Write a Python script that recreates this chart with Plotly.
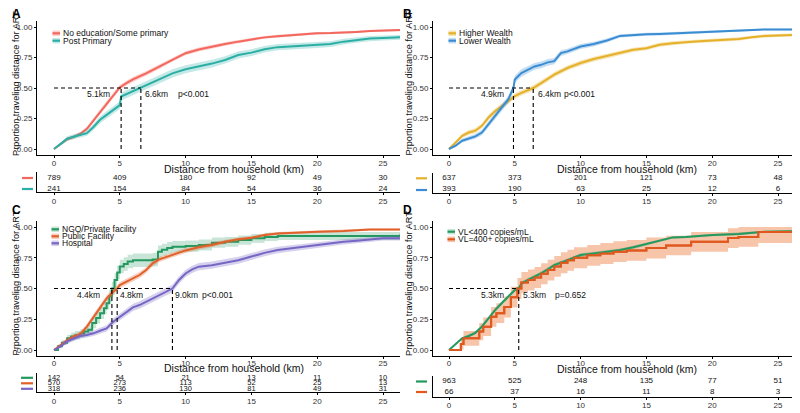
import plotly.graph_objects as go

# ---------------- DATA ----------------
# Panel A: education
A_noedu_x = [0,0.5,1,1.5,2,2.5,3,3.5,4,4.5,5,5.5,6,7,8,9,10,11,12,13,14,15,16,17,18,19,20,21,22,23,24,25,26.3]
A_noedu_y = [0,0.04,0.08,0.10,0.125,0.165,0.235,0.305,0.375,0.44,0.505,0.54,0.57,0.62,0.675,0.735,0.785,0.815,0.84,0.86,0.88,0.90,0.915,0.925,0.934,0.94,0.948,0.95,0.953,0.96,0.967,0.97,0.975]
A_noedu_ci = [0,0.01,0.015,0.015,0.015,0.018,0.02,0.02,0.02,0.02,0.02,0.02,0.02,0.02,0.02,0.018,0.017,0.016,0.015,0.014,0.013,0.012,0.012,0.011,0.011,0.01,0.01,0.01,0.01,0.01,0.009,0.009,0.009]
A_post_x = [0,0.5,1,1.5,2,2.5,3,3.5,4,4.5,5,5.1,5.5,6,6.6,7,8,9,10,11,12,13,14,15,16,17,18,19,20,21,22,23,24,25,26.3]
A_post_y = [0,0.04,0.085,0.10,0.115,0.13,0.18,0.24,0.28,0.32,0.36,0.43,0.45,0.47,0.50,0.525,0.57,0.62,0.653,0.675,0.70,0.73,0.77,0.79,0.817,0.835,0.84,0.845,0.853,0.86,0.88,0.893,0.905,0.91,0.915]
A_post_ci = [0,0.015,0.02,0.02,0.02,0.022,0.025,0.028,0.03,0.03,0.032,0.033,0.033,0.033,0.033,0.033,0.033,0.033,0.033,0.032,0.031,0.03,0.029,0.028,0.027,0.026,0.026,0.025,0.025,0.024,0.023,0.022,0.021,0.02,0.02]
A_names = ["No education/Some primary", "Post Primary"]
A_risk_noedu = [789, 409, 180, 92, 49, 30]
A_risk_post = [241, 154, 84, 54, 36, 24]
A_medians = [5.1, 6.6]
A_pval = "p<0.001"

# Panel B: wealth
B_high_x = [0,0.5,1,1.5,2,2.5,3,3.5,4,4.5,5,5.5,6,6.4,7,8,9,10,11,12,13,14,15,16,17,18,19,20,21,22,23,24,25,26.3]
B_high_y = [0,0.05,0.108,0.135,0.15,0.19,0.258,0.31,0.35,0.39,0.433,0.46,0.48,0.50,0.54,0.61,0.664,0.705,0.737,0.764,0.79,0.813,0.826,0.854,0.867,0.878,0.883,0.889,0.894,0.902,0.916,0.927,0.93,0.935]
B_high_ci = [0,0.012,0.018,0.02,0.02,0.02,0.022,0.022,0.022,0.022,0.022,0.022,0.022,0.022,0.022,0.021,0.02,0.02,0.019,0.018,0.018,0.017,0.017,0.016,0.016,0.015,0.015,0.015,0.014,0.014,0.013,0.013,0.012,0.012]
B_low_x = [0,0.5,1,1.5,2,2.5,3,3.5,4,4.5,4.9,5,5.5,6,6.5,7,7.5,8,8.5,9,10,11,12,13,14,15,16,17,18,19,20,21,22,23,24,26.3]
B_low_y = [0,0.027,0.068,0.087,0.103,0.135,0.203,0.27,0.34,0.406,0.50,0.57,0.623,0.65,0.677,0.69,0.71,0.72,0.786,0.80,0.84,0.86,0.889,0.927,0.935,0.94,0.943,0.948,0.954,0.96,0.965,0.967,0.97,0.976,0.98,0.98]
B_low_ci = [0,0.012,0.015,0.018,0.02,0.022,0.025,0.027,0.028,0.03,0.03,0.03,0.03,0.03,0.028,0.028,0.027,0.026,0.024,0.022,0.02,0.019,0.017,0.014,0.013,0.012,0.012,0.011,0.011,0.01,0.01,0.01,0.009,0.009,0.008,0.008]
B_names = ["Higher Wealth", "Lower Wealth"]
B_risk_high = [637, 373, 201, 121, 73, 48]
B_risk_low = [393, 190, 63, 25, 12, 6]
B_medians = [4.9, 6.4]
B_pval = "p<0.001"

# Panel C: facility type
C_ngo_x = [0,0.3,0.6,1,1.3,1.6,2,2.3,2.6,2.9,3.2,3.5,3.8,4.0,4.2,4.4,4.6,4.8,5.0,5.3,5.6,6.0,7.5,7.9,8.2,8.6,9,10,11,12,13,14,15,16,17,26,26.3]
C_ngo_y = [0,0.03,0.06,0.095,0.11,0.12,0.135,0.15,0.165,0.22,0.26,0.30,0.34,0.38,0.44,0.50,0.57,0.63,0.68,0.70,0.72,0.73,0.737,0.80,0.815,0.83,0.84,0.845,0.854,0.873,0.88,0.894,0.908,0.92,0.927,0.927,0.94]
C_ngo_ci = [0,0.015,0.02,0.03,0.032,0.035,0.035,0.037,0.04,0.043,0.045,0.047,0.048,0.05,0.052,0.055,0.055,0.055,0.055,0.055,0.055,0.055,0.055,0.05,0.049,0.048,0.046,0.045,0.044,0.042,0.04,0.038,0.036,0.034,0.033,0.033,0.028]
C_pub_x = [0,0.5,1,1.5,2,2.5,3,3.5,4,4.5,4.8,5,5.5,6,6.5,7,7.5,8,9,10,11,12,13,14,15,16,17,18,20,22,24,26.3]
C_pub_y = [0,0.04,0.08,0.11,0.13,0.19,0.27,0.34,0.42,0.474,0.50,0.528,0.555,0.583,0.61,0.65,0.705,0.737,0.772,0.81,0.835,0.854,0.88,0.90,0.913,0.935,0.948,0.954,0.962,0.967,0.98,0.98]
C_pub_ci = [0,0.012,0.015,0.018,0.02,0.022,0.024,0.025,0.025,0.025,0.025,0.025,0.025,0.025,0.025,0.024,0.023,0.022,0.021,0.02,0.019,0.018,0.016,0.015,0.014,0.012,0.011,0.01,0.01,0.009,0.008,0.008]
C_hosp_x = [0,0.5,1,1.5,2,2.5,3,3.5,4,4.5,5,5.5,6,6.5,7,7.5,8,8.5,9,9.5,10,10.5,11,12,13,14,15,16,17,18,19,20,21,22,23,24,25,26.3]
C_hosp_y = [0,0.03,0.07,0.09,0.114,0.122,0.136,0.157,0.176,0.23,0.27,0.31,0.347,0.366,0.393,0.42,0.447,0.474,0.50,0.57,0.623,0.656,0.678,0.69,0.71,0.73,0.76,0.79,0.813,0.827,0.84,0.854,0.867,0.88,0.889,0.90,0.908,0.908]
C_hosp_ci = [0,0.012,0.018,0.02,0.02,0.02,0.022,0.024,0.025,0.027,0.028,0.03,0.03,0.03,0.03,0.03,0.03,0.03,0.03,0.03,0.03,0.03,0.03,0.03,0.03,0.029,0.028,0.027,0.026,0.025,0.024,0.023,0.022,0.021,0.02,0.019,0.018,0.018]
C_names = ["NGO/Private facility", "Public Facility", "Hospital"]
C_risk_ngo = [142, 54, 21, 13, 11, 10]
C_risk_pub = [570, 273, 113, 52, 25, 13]
C_risk_hosp = [318, 236, 130, 81, 49, 31]
C_medians = [4.4, 4.8, 9.0]
C_pval = "p<0.001"

# Panel D: viral load
D_lt_x = [0,0.5,1,1.5,2,2.5,3,3.5,4,4.5,5,5.3,5.5,6,6.5,7,7.5,8,9,10,11,12,13,14,15,16,17,18,20,22,24,26.3]
D_lt_y = [0,0.05,0.095,0.114,0.14,0.19,0.257,0.325,0.38,0.434,0.488,0.50,0.542,0.57,0.596,0.623,0.656,0.69,0.73,0.772,0.786,0.80,0.813,0.835,0.862,0.889,0.916,0.92,0.935,0.943,0.962,0.967]
D_lt_ci = [0,0.01,0.012,0.013,0.014,0.015,0.016,0.016,0.016,0.016,0.016,0.016,0.016,0.016,0.016,0.016,0.015,0.015,0.015,0.014,0.014,0.014,0.013,0.013,0.012,0.011,0.01,0.01,0.009,0.009,0.008,0.008]
D_ge_x = [0,0.9,1.1,2.3,2.6,3.2,3.6,4.2,4.7,5.2,5.5,6.0,6.5,7.0,7.5,8.0,8.5,9.0,9.5,10.5,11.5,12.5,13.5,15.0,16.5,18.4,21.2,22.0,23.5,26.3]
D_ge_y = [0,0.05,0.095,0.15,0.19,0.27,0.30,0.35,0.43,0.50,0.55,0.57,0.59,0.62,0.65,0.68,0.71,0.73,0.75,0.77,0.785,0.80,0.81,0.83,0.85,0.88,0.91,0.92,0.96,0.96]
D_ge_ci = [0,0.045,0.06,0.07,0.075,0.08,0.08,0.085,0.085,0.085,0.085,0.085,0.085,0.085,0.085,0.085,0.085,0.085,0.085,0.085,0.085,0.085,0.085,0.085,0.08,0.08,0.08,0.08,0.09,0.09]
D_names = ["VL<400 copies/mL", "VL=400+ copies/mL"]
D_risk_lt = [963, 525, 248, 135, 77, 51]
D_risk_ge = [66, 37, 16, 11, 8, 3]
D_medians = [5.3, 5.3]
D_pval = "p=0.652"

x_ticks = [0, 5, 10, 15, 20, 25]
y_ticks = [0, 0.25, 0.5, 0.75, 1.0]
y_ticklabels = ["0.00", "0.25", "0.50", "0.75", "1.00"]
x_title = "Distance from household (km)"
y_title = "Prportion traveling distance for ART"

# ---------------- STYLE ----------------
# the page body has an 8px margin, so the figure is drawn 8px in from the top-left
OFF = 8
W, H = 800 - OFF, 413 - OFF
FONT = "Liberation Sans, Arial, sans-serif"
def PX(X): return (X - OFF) / W
def PY(Y): return 1 - (Y - OFF) / H

C_RED, B_RED = "#F2675E", "rgba(248,118,109,0.35)"
C_TEAL, B_TEAL = "#2BAFA5", "rgba(43,175,165,0.28)"
C_YEL, B_YEL = "#E6B12A", "rgba(230,177,42,0.35)"
C_BLU, B_BLU = "#3A8DD3", "rgba(58,141,211,0.3)"
C_GRN, B_GRN = "#23995F", "rgba(35,153,95,0.25)"
C_ORG, B_ORG = "#E2602A", "rgba(226,96,42,0.3)"
C_PUR, B_PUR = "#7766C4", "rgba(119,102,196,0.3)"
C_ORG2, B_ORG2 = "#E0581E", "rgba(240,150,100,0.55)"

fig = go.Figure()

def curve(x, y, ci, color, band, ax, shape="linear"):
    xa, ya = ax
    lo = [max(0.0, v - c) for v, c in zip(y, ci)]
    hi = [min(1.0, v + c) for v, c in zip(y, ci)]
    fig.add_trace(go.Scatter(x=x, y=lo, mode="lines", line=dict(width=0, shape=shape),
                             xaxis=xa, yaxis=ya, showlegend=False, hoverinfo="skip"))
    fig.add_trace(go.Scatter(x=x, y=hi, mode="lines", line=dict(width=0, shape=shape),
                             fill="tonexty", fillcolor=band,
                             xaxis=xa, yaxis=ya, showlegend=False, hoverinfo="skip"))
    fig.add_trace(go.Scatter(x=x, y=y, mode="lines", line=dict(width=2, color=color, shape=shape),
                             xaxis=xa, yaxis=ya, showlegend=False))

def risk(rows, ax, size):
    xa, ya = ax
    n = len(rows)
    for i, vals in enumerate(rows):
        fig.add_trace(go.Scatter(x=x_ticks, y=[n - i] * len(vals), mode="text",
                                 text=[str(v) for v in vals],
                                 textfont=dict(family=FONT, size=size, color="#111"),
                                 xaxis=xa, yaxis=ya, showlegend=False, cliponaxis=False))

curve(A_noedu_x, A_noedu_y, A_noedu_ci, C_RED, B_RED, ("x", "y"))
curve(A_post_x, A_post_y, A_post_ci, C_TEAL, B_TEAL, ("x", "y"))
curve(B_high_x, B_high_y, B_high_ci, C_YEL, B_YEL, ("x2", "y2"))
curve(B_low_x, B_low_y, B_low_ci, C_BLU, B_BLU, ("x2", "y2"))
curve(C_ngo_x, C_ngo_y, C_ngo_ci, C_GRN, B_GRN, ("x3", "y3"), "hv")
curve(C_pub_x, C_pub_y, C_pub_ci, C_ORG, B_ORG, ("x3", "y3"))
curve(C_hosp_x, C_hosp_y, C_hosp_ci, C_PUR, B_PUR, ("x3", "y3"))
curve(D_ge_x, D_ge_y, D_ge_ci, C_ORG2, B_ORG2, ("x4", "y4"), "hv")
curve(D_lt_x, D_lt_y, D_lt_ci, C_GRN, "rgba(35,153,95,0.3)", ("x4", "y4"))
fig.add_trace(go.Scatter(x=D_ge_x, y=D_ge_y, mode="lines", line=dict(width=2, color=C_ORG2, shape="hv"),
                         xaxis="x4", yaxis="y4", showlegend=False))

risk([A_risk_noedu, A_risk_post], ("x5", "y5"), 8)
risk([B_risk_high, B_risk_low], ("x6", "y6"), 8)
risk([C_risk_ngo, C_risk_pub, C_risk_hosp], ("x7", "y7"), 7.5)
risk([D_risk_lt, D_risk_ge], ("x8", "y8"), 8)

# ---------------- AXES ----------------
left_dom = [PX(37), PX(400)]
right_dom = [PX(433), min(1.0, PX(795))]
left_rng = [-17 / 13.16, (400 - 54) / 13.16]
right_rng = [-16 / 13.16, (795 - 449) / 13.16]
top_dom = [PY(155.1), PY(20.9)]
bot_dom = [PY(355.7), PY(220.9)]

axline = dict(showline=True, linecolor="black", linewidth=1, showgrid=False, zeroline=False,
              ticks="outside", ticklen=2, tickcolor="black",
              tickfont=dict(family=FONT, size=8, color="#333"))

lay = dict(width=W, height=H, margin=dict(l=0, r=0, t=0, b=0),
           plot_bgcolor="white", paper_bgcolor="white", showlegend=False)

main = [("", left_dom, left_rng, top_dom, [-0.05, 1.05]), ("2", right_dom, right_rng, top_dom, [-0.05, 1.05]),
        ("3", left_dom, left_rng, bot_dom, [-0.046, 1.05]), ("4", right_dom, right_rng, bot_dom, [-0.046, 1.05])]
for k, xd, xr, yd, yr in main:
    lay["xaxis" + k] = dict(domain=xd, range=xr, anchor="y" + k, tickvals=x_ticks,
                            ticklabelstandoff=-2, **axline)
    lay["yaxis" + k] = dict(domain=yd, range=yr, anchor="x" + k,
                            tickvals=y_ticks, ticktext=y_ticklabels, **axline)

tables = [("5", left_dom, left_rng, [PY(192.3), PY(172)], [0.70, 2.545]),
          ("6", right_dom, right_rng, [PY(192.7), PY(172.5)], [0.70, 2.545]),
          ("7", left_dom, left_rng, [PY(392.3), PY(372.7)], [0.36, 3.93]),
          ("8", right_dom, right_rng, [PY(396.7), PY(376)], [0.635, 2.43])]
for k, xd, xr, yd, yr in tables:
    lay["xaxis" + k] = dict(domain=xd, range=xr, anchor="y" + k, tickvals=x_ticks,
                            ticklabelstandoff=-1, **axline)
    lay["yaxis" + k] = dict(domain=yd, range=yr, anchor="x" + k, showline=True, linecolor="black",
                            linewidth=1, showgrid=False, zeroline=False, showticklabels=False, ticks="")

fig.update_layout(**lay)

# ---------------- ANNOTATIONS / SHAPES ----------------
ann = []
shapes = []
dash = dict(color="black", width=1.1, dash="4px,3px")

def medians(meds, pval, xr, yr, first_right, second_left, p_left):
    mmax = max(meds)
    shapes.append(dict(type="line", xref=xr, yref=yr, x0=0, x1=mmax, y0=0.5, y1=0.5, line=dash))
    for m in sorted(set(meds)):
        shapes.append(dict(type="line", xref=xr, yref=yr, x0=m, x1=m, y0=0, y1=0.5, line=dash))
    f = dict(family=FONT, size=8.5, color="#111")
    ann.append(dict(xref=xr, yref=yr, x=first_right, y=0.45, text="%.1fkm" % meds[0],
                    showarrow=False, xanchor="right", font=f))
    for m, xl in zip(meds[1:], second_left):
        ann.append(dict(xref=xr, yref=yr, x=xl, y=0.45, text="%.1fkm" % m,
                        showarrow=False, xanchor="left", font=f))
    ann.append(dict(xref=xr, yref=yr, x=p_left, y=0.45, text=pval, showarrow=False,
                    xanchor="left", font=f))

medians(A_medians, A_pval, "x", "y", 4.4, [6.8], 9.25)
medians(B_medians, B_pval, "x2", "y2", 4.3, [6.6], 8.6)
medians(C_medians, C_pval, "x3", "y3", 3.65, [4.9, 9.05], 11.1)
medians(D_medians, D_pval, "x4", "y4", 4.35, [5.5], 7.9)

def legend(names, colors, bands, X, Ys):
    for n, c, b, Y in zip(names, colors, bands, Ys):
        shapes.append(dict(type="rect", xref="paper", yref="paper", x0=PX(X - 8.5), x1=PX(X - 1),
                           y0=PY(Y + 2.8), y1=PY(Y - 2.8), fillcolor=b, line=dict(width=0)))
        shapes.append(dict(type="line", xref="paper", yref="paper", x0=PX(X - 8.5), x1=PX(X - 1),
                           y0=PY(Y), y1=PY(Y), line=dict(color=c, width=2.2)))
        ann.append(dict(xref="paper", yref="paper", x=PX(X), y=PY(Y), text=n, showarrow=False,
                        xanchor="left", yanchor="middle",
                        font=dict(family=FONT, size=8.5, color="#111")))

legend(A_names, [C_RED, C_TEAL], [B_RED, B_TEAL], 61, [33.3, 40.7])
legend(B_names, [C_YEL, C_BLU], [B_YEL, B_BLU], 457, [33.3, 40.7])
legend(C_names, [C_GRN, C_ORG, C_PUR], [B_GRN, B_ORG, B_PUR], 60, [229.3, 236.3, 243.3])
legend(D_names, [C_GRN, C_ORG2], [B_GRN, B_ORG2], 456, [231.7, 239.3])

def risk_keys(colors, X0, X1, Ys):
    for c, Y in zip(colors, Ys):
        shapes.append(dict(type="line", xref="paper", yref="paper", x0=PX(X0), x1=PX(X1),
                           y0=PY(Y), y1=PY(Y), line=dict(color=c, width=2.2)))

risk_keys([C_RED, C_TEAL], 22, 33, [178, 189])
risk_keys([C_YEL, C_BLU], 416, 427, [178.3, 190])
risk_keys([C_GRN, C_ORG, C_PUR], 21, 33, [377.8, 383.3, 388.8])
risk_keys([C_GRN, C_ORG2], 416, 427, [381.5, 392])

tf = dict(family=FONT, size=10.5, color="#111")
for X, Y in [(234, 168.5), (627, 168.8), (234, 368.3), (627, 369)]:
    ann.append(dict(xref="paper", yref="paper", x=PX(X), y=PY(Y), text=x_title, showarrow=False,
                    xanchor="center", yanchor="middle", font=tf))
for X, Y in [(15.5, 83.5), (408, 83.5), (15.5, 283), (409, 283)]:
    ann.append(dict(xref="paper", yref="paper", x=PX(X), y=PY(Y), text=y_title, showarrow=False,
                    textangle=-90, xanchor="center", yanchor="middle",
                    font=dict(family=FONT, size=9.2, color="#111")))

for L, X, Y in [("A", 16, 14), ("B", 407.5, 14), ("C", 16, 209.5), ("D", 407.5, 209.5)]:
    ann.append(dict(xref="paper", yref="paper", x=PX(X), y=PY(Y), text="<b>%s</b>" % L, showarrow=False,
                    xanchor="center", yanchor="middle", font=dict(family=FONT, size=12, color="black")))

fig.update_layout(annotations=ann, shapes=shapes)
fig.write_html("out.html")
